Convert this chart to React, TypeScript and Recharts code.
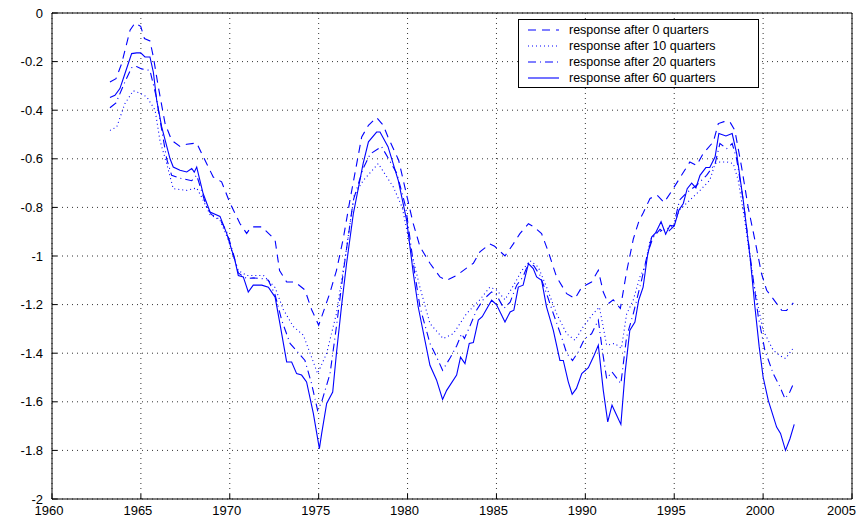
import React from 'react';
import { LineChart, Line, XAxis, YAxis, CartesianGrid, Legend } from 'recharts';

// response after 0 quarters (dashed)
const years0 = [1963.26, 1963.6, 1963.92, 1964.39, 1964.67, 1964.99, 1965.2, 1965.51, 1965.7, 1965.98, 1966.36, 1966.73, 1967.2, 1967.58, 1968.14, 1968.5, 1969.07, 1969.54, 1970.0, 1970.57, 1970.95, 1971.2, 1971.8, 1972.36, 1972.55, 1972.8, 1973.2, 1973.67, 1974.23, 1974.6, 1975.0, 1975.17, 1975.64, 1976.0, 1976.38, 1976.76, 1977.42, 1977.8, 1978.26, 1978.63, 1978.9, 1979.5, 1979.93, 1980.32, 1980.7, 1981.26, 1981.82, 1982.2, 1982.76, 1983.41, 1983.7, 1984.07, 1984.63, 1984.9, 1985.48, 1985.95, 1986.32, 1986.8, 1987.1, 1987.54, 1987.92, 1988.38, 1988.95, 1989.42, 1989.8, 1990.35, 1990.73, 1991.01, 1991.29, 1991.57, 1991.97, 1992.32, 1992.7, 1993.02, 1993.26, 1993.64, 1994.05, 1994.43, 1994.88, 1995.41, 1995.88, 1996.26, 1996.63, 1997.2, 1997.48, 1997.8, 1998.13, 1998.41, 1998.79, 1999.16, 1999.54, 1999.91, 2000.2, 2000.48, 2001.04, 2001.32, 2001.7];
const resp0 = [-0.284, -0.27, -0.208, -0.071, -0.041, -0.055, -0.105, -0.115, -0.18, -0.304, -0.455, -0.524, -0.549, -0.54, -0.535, -0.59, -0.675, -0.695, -0.78, -0.866, -0.907, -0.88, -0.88, -0.92, -0.935, -1.06, -1.107, -1.107, -1.14, -1.22, -1.285, -1.25, -1.15, -1.06, -0.93, -0.77, -0.51, -0.462, -0.43, -0.462, -0.51, -0.606, -0.743, -0.867, -0.962, -1.03, -1.086, -1.1, -1.08, -1.045, -1.03, -0.983, -0.95, -0.96, -1.0, -0.95, -0.908, -0.867, -0.88, -0.908, -0.983, -1.086, -1.155, -1.175, -1.128, -1.107, -1.059, -1.148, -1.196, -1.18, -1.216, -1.065, -0.93, -0.855, -0.822, -0.763, -0.75, -0.78, -0.73, -0.668, -0.613, -0.627, -0.578, -0.53, -0.455, -0.447, -0.448, -0.483, -0.634, -0.8, -0.935, -1.072, -1.141, -1.168, -1.223, -1.224, -1.193];

// response after 10 quarters (dotted)
const years10 = [1963.26, 1963.64, 1964.1, 1964.57, 1964.95, 1965.33, 1965.8, 1966.07, 1966.45, 1966.82, 1967.58, 1968.14, 1968.5, 1968.89, 1969.45, 1969.9, 1970.2, 1970.48, 1970.95, 1971.9, 1972.55, 1973.01, 1973.57, 1974.14, 1974.6, 1974.94, 1975.45, 1976.0, 1976.5, 1977.0, 1977.5, 1978.35, 1979.2, 1979.7, 1980.2, 1980.7, 1981.26, 1982.0, 1982.57, 1983.32, 1984.07, 1984.63, 1985.0, 1985.48, 1986.05, 1986.42, 1986.9, 1987.35, 1987.82, 1988.38, 1988.95, 1989.42, 1989.89, 1990.45, 1990.79, 1991.2, 1991.65, 1992.03, 1992.32, 1992.7, 1993.07, 1993.35, 1993.64, 1994.0, 1994.95, 1995.3, 1995.88, 1996.45, 1997.0, 1997.3, 1997.57, 1997.95, 1998.32, 1998.6, 1998.98, 1999.44, 1999.73, 2000.0, 2000.57, 2000.95, 2001.26, 2001.75];
const resp10 = [-0.483, -0.469, -0.373, -0.32, -0.33, -0.345, -0.4, -0.524, -0.62, -0.723, -0.73, -0.72, -0.77, -0.83, -0.853, -0.93, -1.0, -1.06, -1.08, -1.08, -1.13, -1.22, -1.29, -1.326, -1.416, -1.484, -1.4, -1.237, -1.0, -0.75, -0.69, -0.62, -0.716, -0.8, -0.98, -1.13, -1.278, -1.34, -1.32, -1.237, -1.18, -1.128, -1.14, -1.18, -1.11, -1.06, -1.02, -1.045, -1.128, -1.237, -1.32, -1.347, -1.29, -1.237, -1.21, -1.367, -1.36, -1.38, -1.24, -1.18, -1.086, -1.045, -0.935, -0.905, -0.877, -0.81, -0.77, -0.73, -0.688, -0.62, -0.613, -0.613, -0.62, -0.688, -0.86, -1.1, -1.21, -1.306, -1.388, -1.41, -1.422, -1.374];

// response after 20 quarters (dash-dot)
const years20 = [1963.26, 1963.6, 1964.1, 1964.48, 1964.76, 1965.04, 1965.51, 1965.85, 1966.17, 1966.45, 1966.73, 1967.2, 1967.86, 1968.14, 1968.7, 1968.98, 1969.45, 1969.83, 1970.2, 1970.48, 1970.95, 1971.32, 1971.8, 1972.17, 1972.55, 1972.92, 1973.39, 1973.76, 1974.23, 1974.6, 1974.94, 1975.17, 1975.64, 1976.0, 1976.38, 1976.95, 1977.5, 1977.9, 1978.54, 1979.4, 1979.9, 1980.4, 1980.7, 1981.26, 1981.6, 1981.97, 1982.39, 1982.76, 1983.04, 1983.2, 1983.5, 1983.88, 1984.25, 1984.73, 1985.0, 1985.42, 1985.77, 1986.14, 1986.5, 1986.8, 1987.1, 1987.45, 1987.82, 1988.2, 1988.66, 1988.95, 1989.28, 1989.6, 1989.96, 1990.35, 1990.73, 1990.98, 1991.2, 1991.5, 1992.0, 1992.32, 1992.7, 1993.16, 1993.5, 1993.8, 1994.2, 1994.52, 1994.95, 1995.3, 1995.73, 1996.26, 1996.82, 1997.3, 1997.57, 1997.95, 1998.26, 1998.51, 1998.88, 1999.35, 1999.73, 2000.1, 2000.57, 2000.95, 2001.23, 2001.5, 2001.75];
const resp20 = [-0.39, -0.37, -0.284, -0.225, -0.22, -0.23, -0.236, -0.34, -0.48, -0.6, -0.668, -0.68, -0.69, -0.668, -0.8, -0.83, -0.85, -0.9, -0.99, -1.07, -1.093, -1.09, -1.093, -1.1, -1.16, -1.264, -1.36, -1.39, -1.43, -1.525, -1.635, -1.6, -1.484, -1.29, -1.07, -0.77, -0.64, -0.58, -0.55, -0.66, -0.8, -1.07, -1.21, -1.36, -1.41, -1.47, -1.42, -1.37, -1.32, -1.34, -1.29, -1.223, -1.18, -1.148, -1.16, -1.216, -1.19, -1.12, -1.085, -1.03, -1.04, -1.08, -1.155, -1.237, -1.333, -1.4, -1.43, -1.395, -1.34, -1.32, -1.264, -1.4, -1.505, -1.477, -1.525, -1.333, -1.237, -1.1, -0.99, -0.925, -0.89, -0.91, -0.88, -0.77, -0.738, -0.709, -0.668, -0.62, -0.537, -0.558, -0.537, -0.6, -0.77, -1.045, -1.25, -1.388, -1.484, -1.539, -1.587, -1.56, -1.518];

// response after 60 quarters (solid)
const years60 = [1963.26, 1963.54, 1963.82, 1964.1, 1964.48, 1964.76, 1964.99, 1965.23, 1965.51, 1965.7, 1965.89, 1966.17, 1966.64, 1966.82, 1967.2, 1967.58, 1967.86, 1968.0, 1968.14, 1968.5, 1968.89, 1969.45, 1969.83, 1970.0, 1970.29, 1970.48, 1970.76, 1971.04, 1971.32, 1971.8, 1972.17, 1972.55, 1972.82, 1973.2, 1973.48, 1973.76, 1974.04, 1974.32, 1974.7, 1975.04, 1975.17, 1975.45, 1975.79, 1976.0, 1976.29, 1976.57, 1976.95, 1977.32, 1977.5, 1977.8, 1978.26, 1978.45, 1978.9, 1979.48, 1979.95, 1980.32, 1980.6, 1981.26, 1981.63, 1981.97, 1982.2, 1982.76, 1982.98, 1983.23, 1983.47, 1983.7, 1983.98, 1984.2, 1984.73, 1985.0, 1985.48, 1985.77, 1985.98, 1986.23, 1986.5, 1986.8, 1987.07, 1987.26, 1987.54, 1987.82, 1988.2, 1988.57, 1988.76, 1989.04, 1989.26, 1989.5, 1989.8, 1990.17, 1990.45, 1990.73, 1991.01, 1991.26, 1991.5, 1992.0, 1992.23, 1992.5, 1992.79, 1993.0, 1993.25, 1993.5, 1993.73, 1993.95, 1994.26, 1994.52, 1994.76, 1995.0, 1995.26, 1995.51, 1995.73, 1995.98, 1996.22, 1996.45, 1996.78, 1997.0, 1997.3, 1997.51, 1997.91, 1998.26, 1998.51, 1998.88, 1999.26, 1999.54, 1999.78, 2000.0, 2000.29, 2000.76, 2000.98, 2001.26, 2001.51, 2001.75];
const resp60 = [-0.348, -0.339, -0.311, -0.25, -0.167, -0.164, -0.164, -0.181, -0.181, -0.243, -0.359, -0.469, -0.6, -0.634, -0.647, -0.654, -0.64, -0.655, -0.634, -0.743, -0.819, -0.837, -0.908, -0.949, -1.018, -1.08, -1.086, -1.148, -1.12, -1.12, -1.128, -1.169, -1.278, -1.436, -1.436, -1.484, -1.49, -1.518, -1.648, -1.793, -1.73, -1.607, -1.56, -1.4, -1.203, -1.031, -0.826, -0.688, -0.62, -0.53, -0.49, -0.49, -0.55, -0.69, -0.853, -1.07, -1.21, -1.45, -1.51, -1.59, -1.553, -1.49, -1.416, -1.443, -1.36, -1.356, -1.264, -1.25, -1.182, -1.2, -1.272, -1.23, -1.223, -1.128, -1.12, -1.031, -1.052, -1.086, -1.1, -1.21, -1.306, -1.43, -1.43, -1.518, -1.569, -1.545, -1.484, -1.46, -1.416, -1.367, -1.553, -1.683, -1.614, -1.693, -1.484, -1.306, -1.272, -1.182, -1.128, -0.997, -0.922, -0.905, -0.859, -0.91, -0.874, -0.877, -0.812, -0.784, -0.723, -0.7, -0.72, -0.668, -0.636, -0.636, -0.592, -0.496, -0.506, -0.496, -0.578, -0.77, -1.0, -1.21, -1.374, -1.498, -1.594, -1.704, -1.73, -1.8, -1.752, -1.693];

const xTicks = [1960, 1965, 1970, 1975, 1980, 1985, 1990, 1995, 2000, 2005];
const yTicks = [0, -0.2, -0.4, -0.6, -0.8, -1, -1.2, -1.4, -1.6, -1.8, -2];
const seriesNames = [
  'response after 0 quarters',
  'response after 10 quarters',
  'response after 20 quarters',
  'response after 60 quarters',
];

const toPoints = (ts: number[], vs: number[]) => ts.map((t, i) => ({ t, v: vs[i] }));
const data0 = toPoints(years0, resp0);
const data10 = toPoints(years10, resp10);
const data20 = toPoints(years20, resp20);
const data60 = toPoints(years60, resp60);

const FONT = '"Liberation Sans", Arial, Helvetica, sans-serif';
const BLUE = '#0000ff';
const dashes = ['8 6', '1 3', '8 4 1 4', undefined];
const widths = [1.1, 1.1, 1.1, 1.1];

const LegendBox = () => (
  <div
    style={{
      border: '1px solid #000',
      background: '#fff',
      padding: '2px 0 1px 0',
      fontFamily: FONT,
      fontSize: 12.5,
      color: '#000',
      boxSizing: 'border-box',
      width: 241,
    }}
  >
    {seriesNames.map((name, i) => (
      <div key={name} style={{ display: 'flex', alignItems: 'center', height: 16 }}>
        <svg width={50} height={16} style={{ display: 'block' }}>
          <line x1={9} x2={40} y1={8} y2={8} stroke={BLUE} strokeWidth={1.1} strokeDasharray={dashes[i]} />
        </svg>
        <span style={{ whiteSpace: 'nowrap' }}>{name}</span>
      </div>
    ))}
  </div>
);

const lastX = xTicks[xTicks.length - 1];
const XTick = (props: any) => {
  const { x, y, payload } = props;
  const isLast = payload.value === lastX;
  return (
    <text
      x={isLast ? x + 4 : x - 3}
      y={y}
      dy="0.71em"
      textAnchor={isLast ? 'end' : 'middle'}
      fontSize={13}
      fontFamily={FONT}
      fill="#000"
    >
      {payload.value}
    </text>
  );
};

const yTickStyle = { fontSize: 13, fill: '#000', fontFamily: FONT };
const fmtY = (v: number) => String(Number(v.toFixed(1)));

const pageCss = 'html, body { overflow: hidden; } .recharts-surface { overflow: visible; }';

export default function App() {
  return (
    <div style={{ width: 849, height: 507 }}>
      <style>{pageCss}</style>
      <LineChart width={849} height={507} margin={{ top: 4, right: 4, bottom: 4, left: 4 }}>
        <CartesianGrid stroke="#333" strokeDasharray="1 4" horizontal vertical />
        <XAxis
          dataKey="t"
          type="number"
          domain={[1960, 2005]}
          ticks={xTicks}
          allowDataOverflow
          stroke="#000"
          tick={<XTick />}
          tickSize={-5}
          tickMargin={12}
          height={12}
          interval={0}
        />
        <XAxis
          xAxisId="top"
          orientation="top"
          dataKey="t"
          type="number"
          domain={[1960, 2005]}
          ticks={xTicks}
          allowDataOverflow
          stroke="#000"
          tick={false}
          tickSize={-5}
          height={1}
          interval={0}
        />
        <YAxis
          type="number"
          domain={[-2, 0]}
          ticks={yTicks}
          allowDataOverflow
          stroke="#000"
          tick={yTickStyle}
          tickFormatter={fmtY}
          tickSize={-5}
          tickMargin={14}
          width={40}
          interval={0}
        />
        <YAxis
          yAxisId="right"
          orientation="right"
          type="number"
          domain={[-2, 0]}
          ticks={yTicks}
          allowDataOverflow
          stroke="#000"
          tick={false}
          tickSize={-5}
          width={1}
          interval={0}
        />
        <Legend
          layout="horizontal"
          align="center"
          verticalAlign="middle"
          content={() => <LegendBox />}
          wrapperStyle={{ left: 510, top: 11, width: 241, height: 67 }}
        />
        <Line data={data0} dataKey="v" name={seriesNames[0]} type="linear" stroke={BLUE} strokeWidth={widths[0]} strokeDasharray={dashes[0]} dot={false} activeDot={false} isAnimationActive={false} />
        <Line data={data10} dataKey="v" name={seriesNames[1]} type="linear" stroke={BLUE} strokeWidth={widths[1]} strokeDasharray={dashes[1]} dot={false} activeDot={false} isAnimationActive={false} />
        <Line data={data20} dataKey="v" name={seriesNames[2]} type="linear" stroke={BLUE} strokeWidth={widths[2]} strokeDasharray={dashes[2]} dot={false} activeDot={false} isAnimationActive={false} />
        <Line data={data60} dataKey="v" name={seriesNames[3]} type="linear" stroke={BLUE} strokeWidth={widths[3]} dot={false} activeDot={false} isAnimationActive={false} />
      </LineChart>
    </div>
  );
}
